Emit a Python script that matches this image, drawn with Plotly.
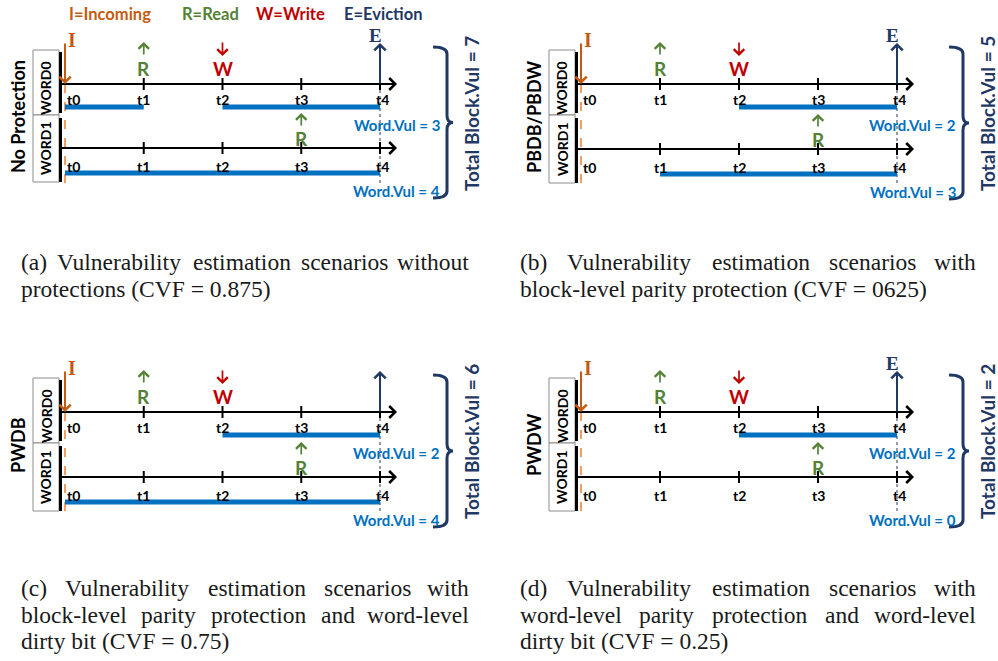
import plotly.graph_objects as go

# ------------------------------------------------------------------ data
TIMES = [0, 1, 2, 3, 4]
TICK_LABELS = ["t0", "t1", "t2", "t3", "t4"]
INCOMING_T = 0
EVICTION_T = 4
WORD0_EVENTS = [(1, "R"), (2, "W")]
WORD1_EVENTS = [(3, "R")]
PANEL_NAMES = ["No Protection", "PBDB/PBDW", "PWDB", "PWDW"]
WORD0_VUL_INTERVALS = [[(0, 1), (2, 4)], [(2, 4)], [(2, 4)], [(2, 4)]]
WORD1_VUL_INTERVALS = [[(0, 4)], [(1, 4)], [(0, 4)], []]
WORD0_VUL = [3, 2, 2, 2]
WORD1_VUL = [4, 3, 4, 0]
TOTAL_VUL = [7, 5, 6, 2]
SHOW_E_LABEL = [True, True, False, True]
LEGEND_TEXT = ["I=Incoming", "R=Read", "W=Write", "E=Eviction"]
LEGEND_KEYS = ["I", "R", "W", "E"]
CAPTIONS = [
    (["(a) Vulnerability estimation scenarios without"],
     "protections (CVF = 0.875)"),
    (["(b) Vulnerability estimation scenarios with"],
     "block-level parity protection (CVF = 0625)"),
    (["(c) Vulnerability estimation scenarios with",
      "block-level parity protection and word-level"],
     "dirty bit (CVF = 0.75)"),
    (["(d) Vulnerability estimation scenarios with",
      "word-level parity protection and word-level"],
     "dirty bit (CVF = 0.25)"),
]

# ------------------------------------------------------------------ style / layout
W, H = 998, 661
COL = {"I": "#C55A11", "R": "#548235", "W": "#C00000", "E": "#1F3864"}
BLUE = "#0070C0"
ORANGE = "#ED7D31"
BOXC = "#8C8C8C"
SANS = "Lato"
SERIF = "Liberation Serif"

# two columns of time axes (x in time units, y in page pixels)
COLS = [dict(xa="x", ya="y", X0=65, S=78.75, L=0, R=499),
        dict(xa="x2", ya="y2", X0=581, S=79.0, L=499, R=998)]
# panel -> (column, word0 line y, row spacing, caption top line y)
PANELS = [(0, 84, 64, 262), (1, 84, 65, 262), (0, 412, 65, 588), (1, 412, 65, 588)]
CAP_X = [(20, 470), (519, 977)]
CAP_SIZE = 23.5
CAP_LEAD = 26.5

TNR = {' ': 250, '(': 333, ')': 333, '-': 333, '.': 250, '=': 564,
       'A': 722, 'B': 667, 'C': 667, 'D': 722, 'E': 611, 'F': 556, 'V': 722,
       'a': 444, 'b': 500, 'c': 444, 'd': 500, 'e': 444, 'f': 333, 'g': 500,
       'h': 500, 'i': 278, 'j': 278, 'k': 500, 'l': 278, 'm': 778, 'n': 500,
       'o': 500, 'p': 500, 'q': 500, 'r': 333, 's': 389, 't': 278, 'u': 500,
       'v': 500, 'w': 722, 'x': 500, 'y': 500, 'z': 444}


def tw(s, size):
    return sum(TNR.get(c, 500) for c in s) / 1000.0 * size


def px(x):
    return x / W


def py(y):
    return 1 - y / H


fig = go.Figure()
shapes = []
anns = []


def seg_trace(xa, ya, xs, ys, color, width, dash="solid"):
    fig.add_trace(go.Scatter(x=xs, y=ys, xaxis=xa, yaxis=ya, mode="lines",
                             line=dict(color=color, width=width, dash=dash),
                             hoverinfo="skip", showlegend=False))


def arrow(xa, ya, xh, yh, xt, yt, color, width=2, size=0.9, head=4):
    anns.append(dict(x=xh, y=yh, ax=xt, ay=yt, xref=xa, yref=ya, axref=xa, ayref=ya,
                     text="", showarrow=True, arrowhead=head, arrowsize=size,
                     arrowwidth=width, arrowcolor=color, standoff=0, startstandoff=0,
                     borderpad=0))


def text(x, y, s, size, color, xref="paper", yref="paper", family=SANS, bold=True,
         xanchor="center", yanchor="middle", angle=0):
    anns.append(dict(x=x, y=y, xref=xref, yref=yref, text=("<b>%s</b>" % s) if bold else s,
                     showarrow=False, xanchor=xanchor, yanchor=yanchor, textangle=angle,
                     font=dict(family=family, size=size, color=color), borderpad=0))


# legend row
LEG_X = [110, 210, 290, 383]
for t_, k, lx in zip(LEGEND_TEXT, LEGEND_KEYS, LEG_X):
    text(px(lx), py(14), t_, 16.5, COL[k])

for p, (ci, Y0, DY, capy) in enumerate(PANELS):
    c = COLS[ci]
    xa, ya, X0, S = c["xa"], c["ya"], c["X0"], c["S"]
    off = lambda d: d / S
    rows = [Y0, Y0 + DY]

    # label boxes (paper coordinates)
    for (ya0, ya1) in [(Y0 - 34, Y0 + 31), (Y0 + 31, Y0 + DY + 34)]:
        shapes.append(dict(type="rect", xref="paper", yref="paper",
                           x0=px(X0 - 32), x1=px(X0 - 6), y0=py(ya0), y1=py(ya1),
                           line=dict(color=BOXC, width=1), fillcolor="white", layer="below"))
    text(px(X0 - 19), py(Y0 + 4), "WORD0", 14, "black", angle=-90)
    text(px(X0 - 19), py(Y0 + DY), "WORD1", 14, "black", angle=-90)
    text(px(X0 - 47), py(Y0 + 33), PANEL_NAMES[p], 18, "black", angle=-90)

    # left black bar
    seg_trace(xa, ya, [off(-4.5), off(-4.5), None, off(-4.5), off(-4.5)],
              [Y0 - 32, Y0 + 29, None, Y0 + 34, Y0 + DY + 34], "black", 3)

    # incoming dashed and eviction dotted guides
    seg_trace(xa, ya, [INCOMING_T, INCOMING_T], [Y0, Y0 + DY + 35], ORANGE, 1.5, "dash")
    seg_trace(xa, ya, [EVICTION_T, EVICTION_T], [Y0, Y0 + DY + 35], COL["E"], 1, "dot")

    # timelines
    for r, ry in enumerate(rows):
        seg_trace(xa, ya, [off(-5), EVICTION_T + off(13)], [ry, ry], "black", 2)
        arrow(xa, ya, EVICTION_T + off(17), ry, EVICTION_T + off(8), ry, "black", 2, 1.15)
        xs, ys = [], []
        for t in TIMES[1:]:
            xs += [t, t, None]
            ys += [ry - 6, ry + 6, None]
        seg_trace(xa, ya, xs, ys, "black", 2)
        for t, lab in zip(TIMES, TICK_LABELS):
            dx = 8 if t == TIMES[0] else (2 if t == TIMES[-1] else 0)
            text(t + off(dx), ry + (15 if r == 0 else 18), lab, 14, "black", xref=xa, yref=ya)

    # vulnerable intervals
    for r, (ivs, dy) in enumerate([(WORD0_VUL_INTERVALS[p], 23), (WORD1_VUL_INTERVALS[p], 25)]):
        xs, ys = [], []
        for (s0, s1) in ivs:
            xs += [s0, s1, None]
            ys += [rows[r] + dy, rows[r] + dy, None]
        if xs:
            seg_trace(xa, ya, xs, ys, BLUE, 5)

    # incoming / eviction arrows
    arrow(xa, ya, INCOMING_T, Y0, INCOMING_T, Y0 - 41, COL["I"], 2, 1.1)
    text(INCOMING_T + off(7), Y0 - 44, "I", 20, COL["I"], xref=xa, yref=ya, family=SERIF)
    arrow(xa, ya, EVICTION_T, Y0 - 41, EVICTION_T, Y0, COL["E"], 2, 1.1)
    if SHOW_E_LABEL[p]:
        text(EVICTION_T + off(-5), Y0 - 49, "E", 19, COL["E"], xref=xa, yref=ya, family=SERIF)

    # read / write events
    for t, k in WORD0_EVENTS:
        if k == "R":
            arrow(xa, ya, t, Y0 - 42, t, Y0 - 29, COL[k], 1.7, 1.2)
        else:
            arrow(xa, ya, t, Y0 - 28, t, Y0 - 42, COL[k], 1.7, 1.2)
        text(t, Y0 - 16, k, 19, COL[k], xref=xa, yref=ya)
    for t, k in WORD1_EVENTS:
        arrow(xa, ya, t, Y0 + DY - 35, t, Y0 + DY - 22, COL[k], 1.7, 1.2)
        text(t, Y0 + DY - 10, k, 19, COL[k], xref=xa, yref=ya)

    # word vulnerabilities
    text(px(X0 + 376), py(Y0 + 41), "Word.Vul = %d" % WORD0_VUL[p], 15, BLUE, xanchor="right")
    text(px(X0 + 376), py(Y0 + DY + 43), "Word.Vul = %d" % WORD1_VUL[p], 15, BLUE, xanchor="right")

    # brace
    x0, xm, x1 = X0 + 368, X0 + 382, X0 + 388
    top, bot = Y0 - 37, Y0 + DY + 50
    mid = (top + bot) / 2
    rr = 7
    P = lambda x, y: "%.5f,%.5f" % (px(x), py(y))
    path = ("M" + P(x0, top) + " Q" + P(xm, top) + " " + P(xm, top + rr) +
            " L" + P(xm, mid - rr) + " Q" + P(xm, mid) + " " + P(x1, mid) +
            " Q" + P(xm, mid) + " " + P(xm, mid + rr) +
            " L" + P(xm, bot - rr) + " Q" + P(xm, bot) + " " + P(x0, bot))
    shapes.append(dict(type="path", xref="paper", yref="paper", path=path,
                       line=dict(color=COL["E"], width=3)))
    text(px(X0 + 406), py(Y0 + 30), "Total Block.Vul = %d" % TOTAL_VUL[p], 19, COL["E"], angle=-90)

    # caption
    cxl, cxr = CAP_X[ci]
    jlines, last = CAPTIONS[p]
    for li, line in enumerate(jlines):
        y = capy + li * CAP_LEAD
        words = line.split()
        wds = [tw(w_, CAP_SIZE) for w_ in words]
        gap = (cxr - cxl - sum(wds)) / (len(words) - 1)
        x = cxl
        for wi, (w_, wd) in enumerate(zip(words, wds)):
            if wi == len(words) - 1:
                text(px(cxr), py(y), w_, CAP_SIZE, "#1a1a1a", family=SERIF, bold=False, xanchor="right")
            else:
                text(px(x), py(y), w_, CAP_SIZE, "#1a1a1a", family=SERIF, bold=False, xanchor="left")
            x += wd + gap
    y = capy + len(jlines) * CAP_LEAD
    text(px(cxl), py(y), last, CAP_SIZE, "#1a1a1a", family=SERIF, bold=False, xanchor="left")

ax_common = dict(visible=False, fixedrange=True, showgrid=False, zeroline=False)
fig.update_layout(
    width=W, height=H, margin=dict(l=0, r=0, t=0, b=0),
    paper_bgcolor="white", plot_bgcolor="rgba(0,0,0,0)",
    showlegend=False,
    shapes=shapes, annotations=anns,
    xaxis=dict(domain=[COLS[0]["L"] / W, COLS[0]["R"] / W],
               range=[(COLS[0]["L"] - COLS[0]["X0"]) / COLS[0]["S"],
                      (COLS[0]["R"] - COLS[0]["X0"]) / COLS[0]["S"]], anchor="y", **ax_common),
    yaxis=dict(domain=[0, 1], range=[H, 0], anchor="x", **ax_common),
    xaxis2=dict(domain=[COLS[1]["L"] / W, COLS[1]["R"] / W],
                range=[(COLS[1]["L"] - COLS[1]["X0"]) / COLS[1]["S"],
                       (COLS[1]["R"] - COLS[1]["X0"]) / COLS[1]["S"]], anchor="y2", **ax_common),
    yaxis2=dict(domain=[0, 1], range=[H, 0], anchor="x2", **ax_common),
)
fig.write_html("out.html")
